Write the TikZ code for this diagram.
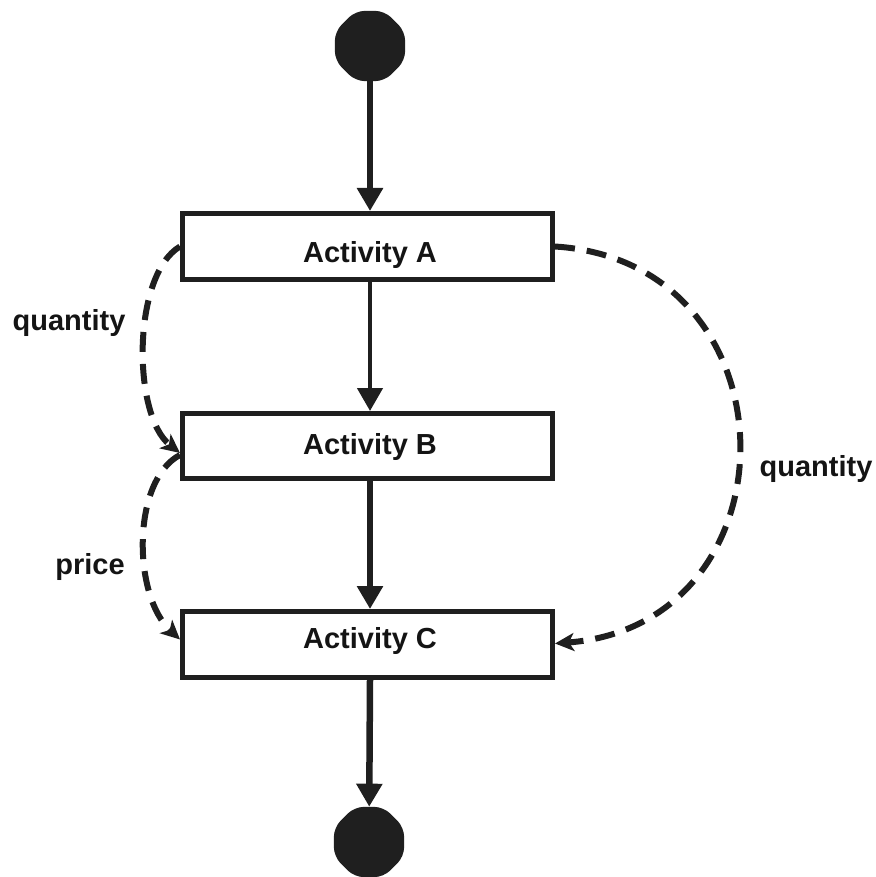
\documentclass[tikz,border=0pt]{standalone}
\usepackage{fontspec}
\setmainfont{Liberation Sans}
\usetikzlibrary{arrows.meta,shapes.geometric}
\tikzset{
  box/.style={draw=black!88, line width=5pt, minimum width=370pt, inner sep=0pt, fill=white},
  lbl/.style={font=\fontsize{29}{34}\selectfont\bfseries, text=black!92, inner sep=0pt},
  term/.style={regular polygon, regular polygon sides=8, minimum size=76pt, fill=black!88, draw=none, inner sep=0pt, rounded corners=9pt},
  flow/.style={draw=black!88, -{Triangle[length=23pt,width=25pt]}},
  dep/.style={draw=black!88, line width=6pt, dash pattern=on 20pt off 12pt, -{Stealth[length=19pt,width=18pt,inset=5pt]}}
}
\begin{document}
\begin{tikzpicture}[x=1pt,y=-1pt]
\useasboundingbox (0,0) rectangle (875,877);
\node[term] (S) at (370,46) {};
\node[term] (E) at (369,842) {};
\node[box, minimum height=66pt] (A) at (367.5,246.5) {};
\node[box, minimum height=65pt] (B) at (367.5,446) {};
\node[box, minimum height=66pt] (C) at (367.5,644.5) {};
\node[lbl, anchor=base] (tA) at (370,262) {Activity A};
\node[lbl, anchor=base] (tB) at (370,454) {Activity B};
\node[lbl, anchor=base] (tC) at (370,648) {Activity C};
\node[lbl, anchor=base] (q1) at (69,330) {quantity};
\node[lbl, anchor=base] (q2) at (816,476) {quantity};
\node[lbl, anchor=base] (p1) at (90,574) {price};
\draw[flow, line width=6pt] (S) -- (S |- A.north);
\draw[flow, line width=4.5pt] (S |- A.south) -- (S |- B.north);
\draw[flow, line width=6.5pt] (S |- B.south) -- (S |- C.north);
\draw[flow, line width=6.5pt] (S |- C.south) -- (E);
\draw[dep] (A.west) .. controls (132,275) and (132,415) .. ([yshift=-7pt]B.west);
\draw[dep] ([yshift=-9pt]B.west) .. controls (132,480) and (132,595) .. ([yshift=5pt]C.west);
\draw[dep] (A.east) .. controls (800,262) and (800,625) .. ([yshift=1pt]C.east);
\end{tikzpicture}
\end{document}
